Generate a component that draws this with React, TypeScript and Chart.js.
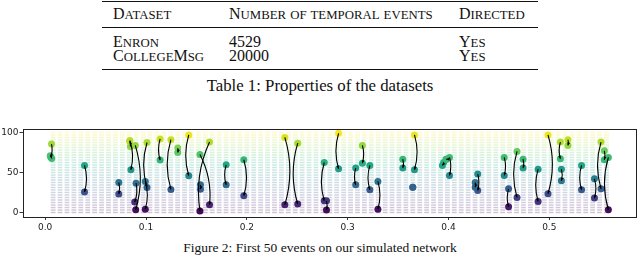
import React, { useEffect, useRef } from "react";
import { Chart, registerables } from "chart.js";

Chart.register(...registerables);

// ---------- table content ----------
const tableHeader = ["Dataset", "Number of temporal events", "Directed"];
const datasetNames = ["Enron", "CollegeMsg"];
const eventCounts = ["4529", "20000"];
const directedFlags = ["Yes", "Yes"];
const tableCaption = "Table 1: Properties of the datasets";
const figureCaption = "Figure 2: First 50 events on our simulated network";

// ---------- chart data ----------
const xTickValues = [0, 0.1, 0.2, 0.3, 0.4, 0.5];
const yTickValues = [0, 50, 100];

// 50 events: source (time, node) -> destination (time, node), bend direction of the arc
const srcX = [0.0063, 0.005, 0.039, 0.073, 0.084, 0.0845, 0.0901, 0.0894, 0.101, 0.0993,
  0.114, 0.1247, 0.1315, 0.1424, 0.1535, 0.163, 0.154, 0.1795, 0.197, 0.2377,
  0.2505, 0.2768, 0.279, 0.291, 0.308, 0.3146, 0.322, 0.33, 0.3547, 0.3663,
  0.3646, 0.3952, 0.398, 0.401, 0.429, 0.4265, 0.4553, 0.4596, 0.468, 0.474,
  0.4889, 0.4987, 0.511, 0.5185, 0.512, 0.532, 0.5448, 0.5513, 0.5546, 0.5586];
const srcY = [85.5, 71, 58.8, 37.5, 90, 82.5, 36.7, 83.8, 87.5, 38.8,
  92, 91, 80.5, 97, 72.5, 88, 34.6, 59.6, 65.9, 93.8,
  86.7, 62.5, 14.6, 99, 55.5, 83.8, 58.8, 38.8, 66.7, 97,
  31.7, 62.5, 66.7, 68.8, 48, 37.5, 68.8, 29.6, 76.3, 66.7,
  54.2, 97, 88, 91, 54.2, 58.8, 42.1, 88, 77.1, 68.8];
const dstX = [0.0055, 0.0065, 0.039, 0.073, 0.085, 0.0838, 0.0888, 0.0898, 0.101, 0.0993,
  0.114, 0.1247, 0.1315, 0.1424, 0.163, 0.1535, 0.154, 0.1795, 0.197, 0.2377,
  0.2505, 0.2768, 0.279, 0.291, 0.308, 0.3146, 0.322, 0.33, 0.3547, 0.3663,
  0.3646, 0.394, 0.3975, 0.401, 0.429, 0.4265, 0.4553, 0.4596, 0.468, 0.474,
  0.4889, 0.4987, 0.511, 0.5185, 0.512, 0.532, 0.5448, 0.5513, 0.5546, 0.5586];
const dstY = [69.5, 67.5, 25.5, 23, 53.4, 89, 13, 3.4, 31.3, 4.2,
  65.5, 28.8, 75, 46, 9.6, 2, 29.2, 34.6, 20.9, 9.6,
  10.5, 14.6, 3, 54.6, 34.6, 61.7, 28.4, 4.2, 55.5, 53.4,
  31.7, 58.8, 66.7, 46.3, 27.5, 31.7, 46.3, 7.1, 18.8, 55.5,
  13.8, 23.4, 67.1, 83.8, 39.6, 28.4, 18, 29.6, 65.9, 3.4];
const bend = [1, 1, 1, 1, 1, 1, 1, 1, -1, 1,
  -1, -1, 1, -1, 1, -1, 1, -1, 1, 1,
  -1, -1, 1, -1, -1, 1, -1, 1, 1, 1,
  0, 1, 0, 1, 1, 1, 1, -1, -1, 1,
  -1, 1, -1, 1, 1, -1, 1, -1, 1, -1];

// faint background lattice of (time slot, node) cells
const bgColStart = 0.0079;
const bgColStep = 0.00686;
const bgColCount = 81;
const bgRowMax = 100;
const bgRowCount = 33;

// ---------- viridis colormap ----------
const viridisStops = ["#440154", "#482475", "#414487", "#355f8d", "#2a788e", "#21918c",
  "#22a884", "#44bf70", "#7ad151", "#bddf26", "#fde725"];
function hexRgb(h: string) {
  return [parseInt(h.slice(1, 3), 16), parseInt(h.slice(3, 5), 16), parseInt(h.slice(5, 7), 16)];
}
function viridis(t: number, a = 1) {
  const tt = Math.max(0, Math.min(1, t)) * 10;
  const i = Math.min(9, Math.floor(tt));
  const f = tt - i;
  const c0 = hexRgb(viridisStops[i]);
  const c1 = hexRgb(viridisStops[i + 1]);
  const c = c0.map((v, k) => Math.round(v + (c1[k] - v) * f));
  return `rgba(${c[0]},${c[1]},${c[2]},${a})`;
}

const arcPlugin = {
  id: "eventArcs",
  afterDatasetsDraw(chart: any) {
    const { ctx, scales, chartArea } = chart;
    const xs = scales.x, ys = scales.y;
    ctx.save();
    ctx.strokeStyle = "#000";
    ctx.fillStyle = "#000";
    ctx.lineWidth = 1.1;
    for (let i = 0; i < srcX.length; i++) {
      const x1 = xs.getPixelForValue(srcX[i]);
      const y1 = ys.getPixelForValue(srcY[i]);
      const x2 = xs.getPixelForValue(dstX[i]);
      const y2 = ys.getPixelForValue(dstY[i]);
      const dx = x2 - x1, dy = y2 - y1;
      const L = Math.hypot(dx, dy);
      if (L < 0.5) continue;
      let nx = -dy / L, ny = dx / L;
      if (nx < 0) { nx = -nx; ny = -ny; }
      const k = 0.15 * L * bend[i];
      const cx = (x1 + x2) / 2 + nx * k;
      const cy = (y1 + y2) / 2 + ny * k;
      ctx.beginPath();
      ctx.moveTo(x1, y1);
      ctx.quadraticCurveTo(cx, cy, x2, y2);
      ctx.stroke();
      const tx = x2 - cx, ty = y2 - cy;
      const tl = Math.hypot(tx, ty) || 1;
      const ux = tx / tl, uy = ty / tl;
      const hl = 3, hw = 1.3;
      ctx.beginPath();
      ctx.moveTo(x2, y2);
      ctx.lineTo(x2 - ux * hl - uy * hw, y2 - uy * hl + ux * hw);
      ctx.lineTo(x2 - ux * hl + uy * hw, y2 - uy * hl - ux * hw);
      ctx.closePath();
      ctx.fill();
    }
    ctx.strokeStyle = "#222";
    ctx.lineWidth = 1;
    ctx.strokeRect(Math.round(chartArea.left) + 0.5, Math.round(chartArea.top) + 0.5,
      Math.round(chartArea.right - chartArea.left), Math.round(chartArea.bottom - chartArea.top));
    ctx.restore();
  },
};

function EventChart() {
  const ref = useRef<HTMLCanvasElement>(null);
  useEffect(() => {
    if (!ref.current) return;
    const pts: { x: number; y: number }[] = [];
    for (let i = 0; i < srcX.length; i++) {
      pts.push({ x: srcX[i], y: srcY[i] });
      pts.push({ x: dstX[i], y: dstY[i] });
    }
    const bg: { x: number; y: number }[] = [];
    for (let c = 0; c < bgColCount; c++) {
      for (let r = 0; r < bgRowCount; r++) {
        bg.push({ x: bgColStart + c * bgColStep, y: (r * bgRowMax) / (bgRowCount - 1) });
      }
    }
    const tickFont = { family: "DejaVu Sans", size: 9 };
    const chart = new Chart(ref.current, {
      type: "scatter",
      data: {
        datasets: [
          {
            data: pts,
            order: 1,
            pointRadius: 3.5,
            pointHoverRadius: 3.5,
            pointBorderWidth: 0,
            pointBackgroundColor: pts.map((p) => viridis(p.y / 100)),
            pointBorderColor: pts.map((p) => viridis(p.y / 100)),
          },
          {
            data: bg,
            order: 2,
            pointStyle: "line",
            pointRadius: 2.4,
            pointHoverRadius: 2.4,
            pointBorderWidth: 1.6,
            pointBorderColor: bg.map((p) => viridis(p.y / 100, 0.24)),
            pointBackgroundColor: bg.map((p) => viridis(p.y / 100, 0.24)),
          },
        ],
      },
      options: {
        responsive: false,
        animation: false,
        events: [],
        layout: { padding: { top: 6.5, right: 2.5, left: 0, bottom: 0 } },
        plugins: { legend: { display: false }, tooltip: { enabled: false } },
        scales: {
          x: {
            type: "linear",
            min: -0.022,
            max: 0.586,
            afterBuildTicks: (s: any) => { s.ticks = xTickValues.map((v) => ({ value: v })); },
            afterFit: (s: any) => { s.height = 19.5; },
            ticks: {
              callback: (v: any) => Number(v).toFixed(1),
              font: tickFont, color: "#222", padding: 2, maxRotation: 0, autoSkip: false,
            },
            grid: { drawOnChartArea: false, drawTicks: true, tickLength: 3.5, color: "#222", lineWidth: 0.9 },
            border: { display: false },
          },
          y: {
            type: "linear",
            min: -5,
            max: 105,
            afterBuildTicks: (s: any) => { s.ticks = yTickValues.map((v) => ({ value: v })); },
            afterFit: (s: any) => { s.width = 23; },
            ticks: { font: tickFont, color: "#222", padding: 1, autoSkip: false },
            grid: { drawOnChartArea: false, drawTicks: true, tickLength: 3.5, color: "#222", lineWidth: 0.9 },
            border: { display: false },
          },
        },
      },
      plugins: [arcPlugin],
    } as any);
    return () => chart.destroy();
  }, []);
  return (
    <canvas ref={ref} width={640} height={114}
      style={{ position: "absolute", left: 0, top: 122, width: 640, height: 114 }} />
  );
}

// LaTeX-like small caps: capitals full size, lower-case letters as reduced capitals
function SmallCaps({ text, ratio }: { text: string; ratio: number }) {
  return (
    <>
      {text.split("").map((ch, i) =>
        ch >= "a" && ch <= "z"
          ? <span key={i} style={{ fontSize: `${ratio}em` }}>{ch.toUpperCase()}</span>
          : <span key={i}>{ch}</span>
      )}
    </>
  );
}

function Txt(props: { x: number; cy: number; size: number; center?: boolean; children: any }) {
  const { x, cy, size, center, children } = props;
  return (
    <div style={{
      position: "absolute",
      left: center ? 0 : x,
      width: center ? 640 : undefined,
      textAlign: center ? "center" : "left",
      top: cy - size * 0.53,
      fontSize: size,
      lineHeight: `${size}px`,
      whiteSpace: "nowrap",
      color: "#111",
    }}>{children}</div>
  );
}

export default function App() {
  const colX = [113, 229, 459];
  const tSize = 16;
  const scRatio = 0.8;
  const rule = (top: number, h: number) => (
    <div style={{ position: "absolute", left: 102, width: 436, top, height: h, background: "#111" }} />
  );
  return (
    <div style={{
      position: "absolute", left: 0, top: 0, width: 640, height: 263, background: "#fff",
      fontFamily: "'Liberation Serif', 'Times New Roman', serif", overflow: "hidden",
    }}>
      {rule(0.5, 1.5)}
      {tableHeader.map((h, i) => (
        <Txt key={h} x={colX[i]} cy={14} size={tSize}><SmallCaps text={h} ratio={scRatio} /></Txt>
      ))}
      {rule(26.5, 1)}
      {datasetNames.map((n, r) => (
        <React.Fragment key={n}>
          <Txt x={colX[0]} cy={42 + r * 14} size={tSize}><SmallCaps text={n} ratio={scRatio} /></Txt>
          <Txt x={colX[1]} cy={42 + r * 14} size={tSize}>{eventCounts[r]}</Txt>
          <Txt x={colX[2]} cy={42 + r * 14} size={tSize}><SmallCaps text={directedFlags[r]} ratio={scRatio} /></Txt>
        </React.Fragment>
      ))}
      {rule(68.5, 1.5)}
      <Txt x={0} cy={87} size={16.8} center>{tableCaption}</Txt>
      <EventChart />
      <Txt x={0} cy={248} size={13.5} center>{figureCaption}</Txt>
    </div>
  );
}
